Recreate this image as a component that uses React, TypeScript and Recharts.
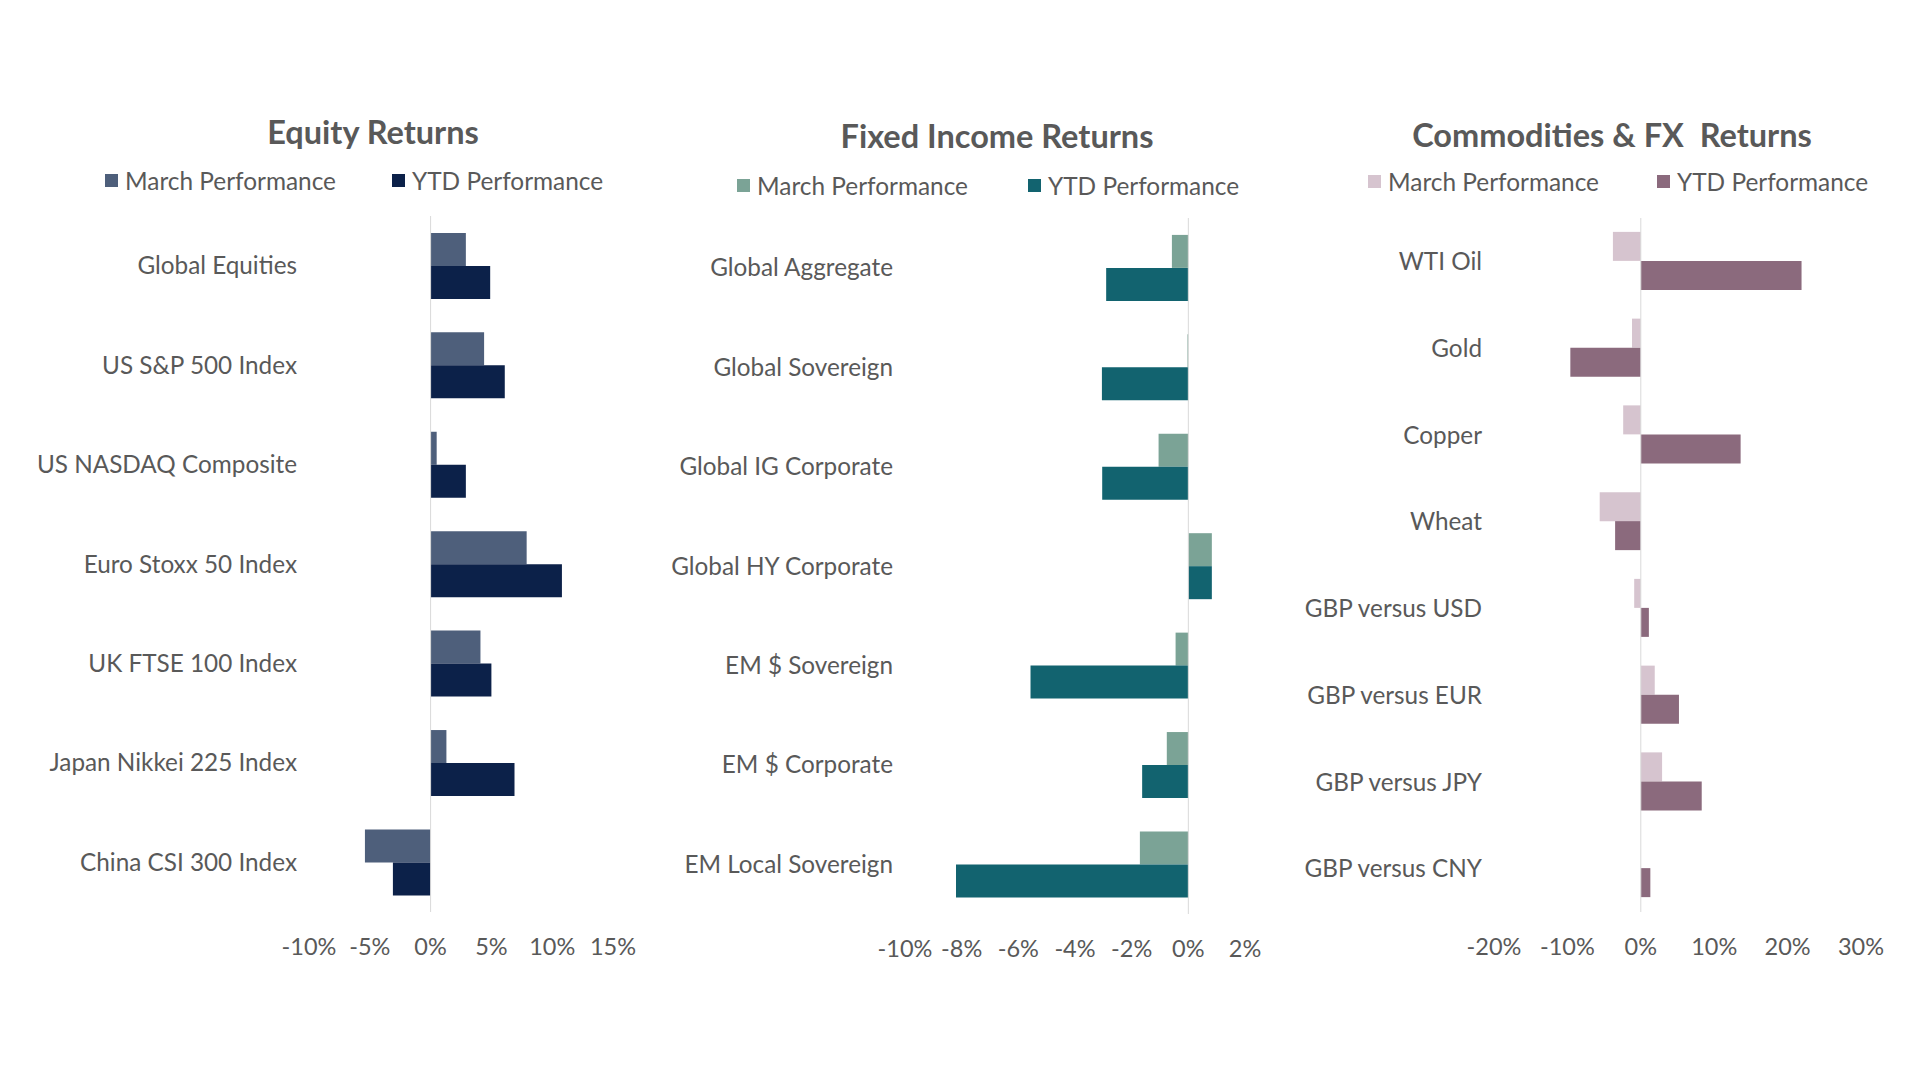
import React from "react";
import {
  BarChart,
  Bar,
  XAxis,
  YAxis,
  ReferenceLine,
} from "recharts";

// Equity panel
const equityNames = [
  "Global Equities",
  "US S&P 500 Index",
  "US NASDAQ Composite",
  "Euro Stoxx 50 Index",
  "UK FTSE 100 Index",
  "Japan Nikkei 225 Index",
  "China CSI 300 Index",
];
const equityMarch = [2.9, 4.4, 0.5, 7.9, 4.1, 1.3, -5.4];
const equityYtd = [4.9, 6.1, 2.9, 10.8, 5.0, 6.9, -3.1];
const equityTicks = [-10, -5, 0, 5, 10, 15];

// Fixed income panel
const fixedNames = [
  "Global Aggregate",
  "Global Sovereign",
  "Global IG Corporate",
  "Global HY Corporate",
  "EM $ Sovereign",
  "EM $ Corporate",
  "EM Local Sovereign",
];
const fixedMarch = [-0.58, -0.03, -1.05, 0.83, -0.45, -0.76, -1.71];
const fixedYtd = [-2.9, -3.05, -3.04, 0.83, -5.57, -1.63, -8.2];
const fixedTicks = [-10, -8, -6, -4, -2, 0, 2];

// Commodities & FX panel
const commNames = [
  "WTI Oil",
  "Gold",
  "Copper",
  "Wheat",
  "GBP versus USD",
  "GBP versus EUR",
  "GBP versus JPY",
  "GBP versus CNY",
];
const commMarch = [-3.8, -1.2, -2.4, -5.6, -0.9, 1.9, 2.9, 0];
const commYtd = [21.9, -9.6, 13.6, -3.5, 1.1, 5.2, 8.3, 1.3];
const commTicks = [-20, -10, 0, 10, 20, 30];

const FONT = "Lato, Carlito, Calibri, sans-serif";
const TEXT = "#595959";

const toRows = (names: string[], march: number[], ytd: number[]) =>
  names.map((name, i) => ({ name, march: march[i], ytd: ytd[i] }));

interface PanelProps {
  title: string;
  names: string[];
  march: number[];
  ytd: number[];
  ticks: number[];
  colors: { march: string; ytd: string };
  left: number;
  width: number;
  plotLeft: number;
  plotRight: number;
  plotTop: number;
  plotBottom: number;
  gap: string;
  titleX: number;
  titleY: number;
  legendY: number;
  legendX: [number, number];
}

const Panel: React.FC<PanelProps> = (p) => {
  const data = toRows(p.names, p.march, p.ytd);
  const height = 1000;
  const xAxisHeight = 60;
  return (
    <>
      <div
        style={{
          position: "absolute",
          left: p.titleX - 300,
          top: p.titleY - 20,
          width: 600,
          textAlign: "center",
          fontFamily: FONT,
          fontWeight: 700,
          fontSize: 32.5,
          lineHeight: "40px",
          color: TEXT,
        }}
      >
        {p.title}
      </div>
      {[
        { label: "March Performance", color: p.colors.march, x: p.legendX[0] },
        { label: "YTD Performance", color: p.colors.ytd, x: p.legendX[1] },
      ].map((item) => (
        <div
          key={item.label}
          style={{
            position: "absolute",
            left: item.x,
            top: p.legendY - 14,
            height: 28,
            display: "flex",
            alignItems: "center",
            fontFamily: FONT,
            fontSize: 24.4,
            color: TEXT,
            whiteSpace: "nowrap",
          }}
        >
          <span
            style={{
              display: "inline-block",
              width: 13,
              height: 13,
              background: item.color,
              marginRight: 7,
            }}
          />
          {item.label}
        </div>
      ))}
      <div style={{ position: "absolute", left: p.left, top: 0 }}>
        <BarChart
          width={p.width}
          height={height}
          data={data}
          layout="vertical"
          barCategoryGap={p.gap}
          barGap={0}
          margin={{
            top: p.plotTop,
            right: p.left + p.width - p.plotRight,
            left: 0,
            bottom: height - p.plotBottom - xAxisHeight,
          }}
        >
          <XAxis
            type="number"
            domain={[p.ticks[0], p.ticks[p.ticks.length - 1]]}
            ticks={p.ticks}
            tickFormatter={(v: number) => `${v}%`}
            axisLine={false}
            tickLine={false}
            tickSize={0}
            tickMargin={26}
            height={xAxisHeight}
            interval={0}
            tick={{ fill: TEXT, fontSize: 23.5, fontFamily: FONT }}
          />
          <YAxis
            type="category"
            dataKey="name"
            width={p.plotLeft - p.left}
            axisLine={false}
            tickLine={false}
            tickSize={0}
            tickMargin={12}
            interval={0}
            tick={{ fill: TEXT, fontSize: 24.3, fontFamily: FONT }}
          />
          <ReferenceLine x={0} stroke="#D9D9D9" strokeWidth={1} />
          <Bar
            dataKey="march"
            name="March Performance"
            fill={p.colors.march}
            isAnimationActive={false}
          />
          <Bar
            dataKey="ytd"
            name="YTD Performance"
            fill={p.colors.ytd}
            isAnimationActive={false}
          />
        </BarChart>
      </div>
    </>
  );
};

export default function App() {
  return (
    <div
      style={{
        position: "absolute",
        left: 0,
        top: 0,
        width: 1920,
        height: 1080,
        background: "#ffffff",
        overflow: "hidden",
      }}
    >
      <Panel
        title="Equity Returns"
        names={equityNames}
        march={equityMarch}
        ytd={equityYtd}
        ticks={equityTicks}
        colors={{ march: "#4E5F7B", ytd: "#0C2149" }}
        left={0}
        width={650}
        plotLeft={309}
        plotRight={613}
        plotTop={216}
        plotBottom={912}
        gap="17%"
        titleX={373}
        titleY={132}
        legendY={180}
        legendX={[105, 392]}
      />
      <Panel
        title="Fixed Income Returns"
        names={fixedNames}
        march={fixedMarch}
        ytd={fixedYtd}
        ticks={fixedTicks}
        colors={{ march: "#7BA396", ytd: "#12636F" }}
        left={650}
        width={620}
        plotLeft={905}
        plotRight={1245}
        plotTop={218}
        plotBottom={914}
        gap="17%"
        titleX={997}
        titleY={136}
        legendY={185}
        legendX={[737, 1028]}
      />
      <Panel
        title={"Commodities & FX\u00a0 Returns"}
        names={commNames}
        march={commMarch}
        ytd={commYtd}
        ticks={commTicks}
        colors={{ march: "#D6C4CF", ytd: "#8B6A7D" }}
        left={1270}
        width={650}
        plotLeft={1494}
        plotRight={1861}
        plotTop={218}
        plotBottom={912}
        gap="16%"
        titleX={1612}
        titleY={135}
        legendY={181}
        legendX={[1368, 1657]}
      />
    </div>
  );
}
